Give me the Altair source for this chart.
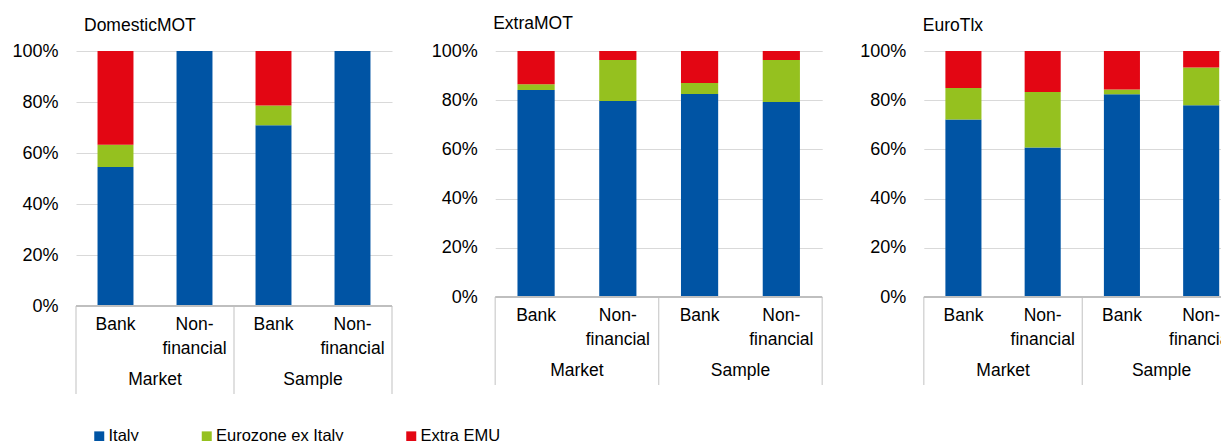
import altair as alt
import pandas as pd

FONT = "Liberation Sans"

exchanges = ["DomesticMOT", "ExtraMOT", "EuroTlx"]
groups = ["Market", "Market", "Sample", "Sample"]
sectors = ["Bank", "Non-financial", "Bank", "Non-financial"]
series = ["Italy", "Eurozone ex Italy", "Extra EMU"]
colors = ["#0054A4", "#95C11F", "#E30613"]

# shares (%) per exchange, in the order of groups/sectors above
italy = {
    "DomesticMOT": [54.5, 100.0, 70.9, 100.0],
    "ExtraMOT": [84.1, 79.7, 82.5, 79.3],
    "EuroTlx": [72.2, 60.8, 82.4, 77.9],
}
eurozone_ex_italy = {
    "DomesticMOT": [8.7, 0.0, 7.7, 0.0],
    "ExtraMOT": [2.4, 16.6, 4.5, 17.0],
    "EuroTlx": [12.8, 22.5, 2.0, 15.4],
}
extra_emu = {
    "DomesticMOT": [36.8, 0.0, 21.4, 0.0],
    "ExtraMOT": [13.5, 3.7, 13.0, 3.7],
    "EuroTlx": [15.0, 16.7, 15.6, 6.7],
}

series_values = [italy, eurozone_ex_italy, extra_emu]
keys = [f"{g} {s}" for g, s in zip(groups, sectors)]

rows = []
for ex in exchanges:
    for i in range(4):
        for k, (sname, sv) in enumerate(zip(series, series_values)):
            rows.append({"exchange": ex, "key": keys[i], "series": sname,
                         "value": sv[ex][i], "order": k})
df = pd.DataFrame(rows)

cat_df = pd.DataFrame({"key": keys,
                       "label": [s.replace("Non-", "Non-\n") for s in sectors]})
grp_names = list(dict.fromkeys(groups))
grp_df = pd.DataFrame({"group": grp_names})
one = pd.DataFrame({"a": [0]})

legend = alt.Legend(title=None, orient="none", direction="horizontal",
                    legendX=15, legendY=377, symbolType="square", symbolSize=100,
                    symbolStrokeWidth=0, labelFontSize=16.5, labelFont=FONT,
                    labelColor="black", columnPadding=59.5, labelOffset=1)


def panel(name, W, H, title_dx, title_offset):
    xscale = alt.Scale(type="band", domain=keys, paddingInner=0.545, paddingOuter=0.2725)
    bars = alt.Chart(df[df.exchange == name]).mark_bar().encode(
        x=alt.X("key:N", scale=xscale, axis=None, sort=keys),
        y=alt.Y("value:Q", stack="zero",
                scale=alt.Scale(domain=[0, 100], nice=False),
                axis=alt.Axis(values=[0, 20, 40, 60, 80, 100],
                              labelExpr="datum.value + '%'", title=None,
                              grid=True, gridColor="#D9D9D9", gridWidth=1.2,
                              domain=False, ticks=False, labelPadding=18,
                              labelFontSize=18, labelFont=FONT, labelColor="black")),
        color=alt.Color("series:N", scale=alt.Scale(domain=series, range=colors),
                        legend=legend, sort=series),
        order=alt.Order("order:Q"),
    )
    cat = alt.Chart(cat_df).mark_text(
        baseline="alphabetic", lineBreak="\n", lineHeight=23.5, fontSize=17.5,
        font=FONT, color="black").encode(
        x=alt.X("key:N", scale=xscale, axis=None, sort=keys),
        y=alt.value(H + 24),
        text="label:N")
    grp = alt.Chart(grp_df).mark_text(
        baseline="alphabetic", fontSize=17.5, font=FONT, color="black").encode(
        x=alt.X("group:N", scale=alt.Scale(type="band", domain=grp_names,
                                           paddingInner=0, paddingOuter=0),
                axis=None),
        y=alt.value(H + 79),
        text="group:N")
    seps = [alt.Chart(one).mark_rule(color="#D0D0D0", strokeWidth=1.3).encode(
        x=alt.value(xv), y=alt.value(H), y2=alt.value(H + 88))
        for xv in (0, W / 2, W)]
    base_line = alt.Chart(one).mark_rule(color="#BFBFBF", strokeWidth=2).encode(
        x=alt.value(0), x2=alt.value(W), y=alt.value(H))
    return alt.layer(bars, cat, grp, *seps, base_line).resolve_scale(
        x="independent").properties(
        width=W, height=H,
        title=alt.TitleParams(name, anchor="start", frame="group", dx=title_dx,
                              offset=title_offset, fontSize=17.5, font=FONT,
                              fontWeight="normal", color="black"))


p1 = panel("DomesticMOT", 316, 255, 8, 8)
p2 = panel("ExtraMOT", 327, 246, -2, 10)
p3 = panel("EuroTlx", 317, 246, -1, 8)

chart = alt.hconcat(alt.hconcat(p1, p2, spacing=37.2), p3, spacing=34.8).properties(
    padding={"left": 3, "top": 6, "right": -21, "bottom": 0}
).configure_view(stroke=None)

chart.save("out.html", embed_options={"renderer": "svg", "actions": False})
